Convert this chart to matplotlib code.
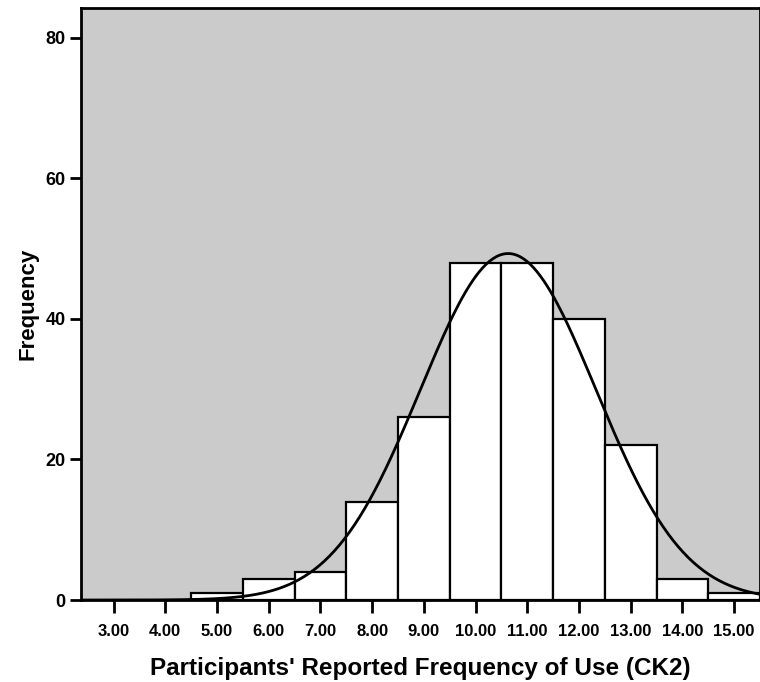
"""
SPSS-style histogram of reported frequency of use (CK2) with normal curve.
"""

import matplotlib
matplotlib.use("Agg")
import matplotlib.pyplot as plt
import numpy as np

# bin centres and counts
bin_centres = [5, 6, 7, 8, 9, 10, 11, 12, 13, 14, 15]
counts = [1, 3, 4, 14, 26, 48, 48, 40, 22, 3, 1]
tick_values = [3, 4, 5, 6, 7, 8, 9, 10, 11, 12, 13, 14, 15]
tick_labels = [f"{v:.2f}" for v in tick_values]

# normal curve parameters (estimated from the curve peak)
curve_mean = 10.63
curve_sd = 1.70

FONT = "Liberation Sans"


def make_chart():
    fig = plt.figure(figsize=(7.6, 6.82), dpi=100)
    ax = fig.add_axes([0.1066, 0.1202, 0.8934, 0.8680])
    ax.set_facecolor("#cbcbcb")

    ax.bar(bin_centres, counts, width=1.0, color="white",
           edgecolor="black", linewidth=1.6, zorder=2)

    n = sum(counts)
    xs = np.linspace(2.37, 15.5, 400)
    ys = n / (curve_sd * np.sqrt(2 * np.pi)) * np.exp(-0.5 * ((xs - curve_mean) / curve_sd) ** 2)
    ax.plot(xs, ys, color="black", linewidth=2.0, zorder=3)

    ax.set_xlim(2.37, 15.5)
    ax.set_ylim(0, 84.2)
    ax.set_xticks(tick_values)
    ax.set_xticklabels(tick_labels)
    ax.set_yticks([0, 20, 40, 60, 80])

    for s in ax.spines.values():
        s.set_linewidth(2.0)
        s.set_zorder(4)

    ax.tick_params(axis="x", direction="out", length=9, width=2, pad=8,
                   labelsize=12)
    ax.tick_params(axis="y", direction="out", length=8, width=2, pad=3,
                   labelsize=13)
    for lab in ax.get_xticklabels():
        lab.set_fontfamily(FONT)
        lab.set_fontweight("bold")
    for lab in ax.get_yticklabels():
        lab.set_fontfamily(FONT)
        lab.set_fontweight("bold")

    ax.set_xlabel("Participants' Reported Frequency of Use (CK2)",
                  fontsize=17.5, fontweight="bold", family=FONT, labelpad=13)
    ax.set_ylabel("Frequency", fontsize=16, fontweight="bold", family=FONT,
                  labelpad=5)
    return fig


def main():
    fig = make_chart()
    fig.savefig("out.png", dpi=100, facecolor="white")
    plt.close(fig)


if __name__ == "__main__":
    main()
